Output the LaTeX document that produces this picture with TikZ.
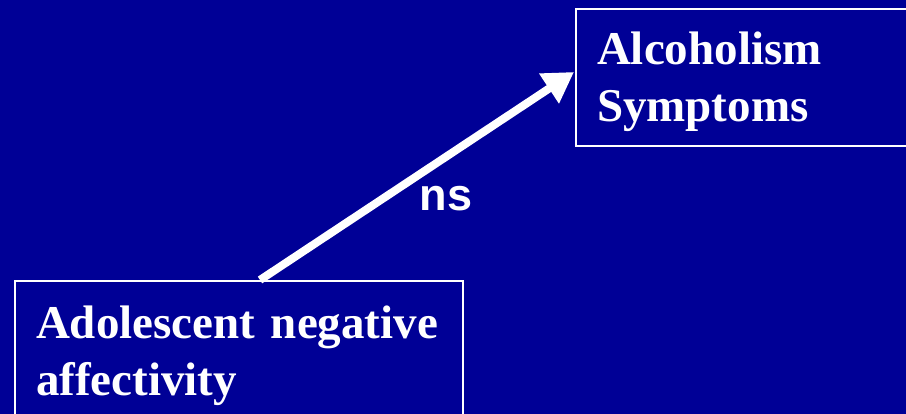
\documentclass[tikz,border=0pt]{standalone}
\usepackage{fontspec}
\setmainfont{Liberation Serif}
\setsansfont{Liberation Sans}
\usetikzlibrary{arrows.meta, positioning}
\definecolor{slideblue}{HTML}{000096}
\definecolor{boxwhite}{HTML}{FFFFFF}

\begin{document}
\begin{tikzpicture}[
  x=1pt, y=-1pt,
  every node/.style={text=boxwhite},
  varbox/.style={rectangle, draw=boxwhite, line width=2pt, inner xsep=21pt, inner ysep=0pt, align=left, anchor=north west, font=\fontsize{47}{57}\selectfont\bfseries},
  pathlabel/.style={font=\fontsize{45}{50}\selectfont\sffamily\bfseries, inner sep=0pt},
]
\fill[slideblue] (0,0) rectangle (906,414);
\useasboundingbox (0,0) rectangle (906,414);

% Outcome and predictor
\node[varbox, text width=330pt, minimum height=137pt] (alc) at (575,8) {\rule{0pt}{41pt}Alcoholism\\Symptoms};
\node[varbox, text width=406pt, minimum height=149pt] (neg) at (14,280) {Adolescent negative\\affectivity};
\coordinate (tip) at (574,72);

% Path
\draw[-{Triangle[length=30pt, width=34pt]}, boxwhite, line width=8pt] ([xshift=-204pt]neg.north east) -- (tip);
\node[pathlabel] (ns) at (446,199) {ns};

\end{tikzpicture}
\end{document}
